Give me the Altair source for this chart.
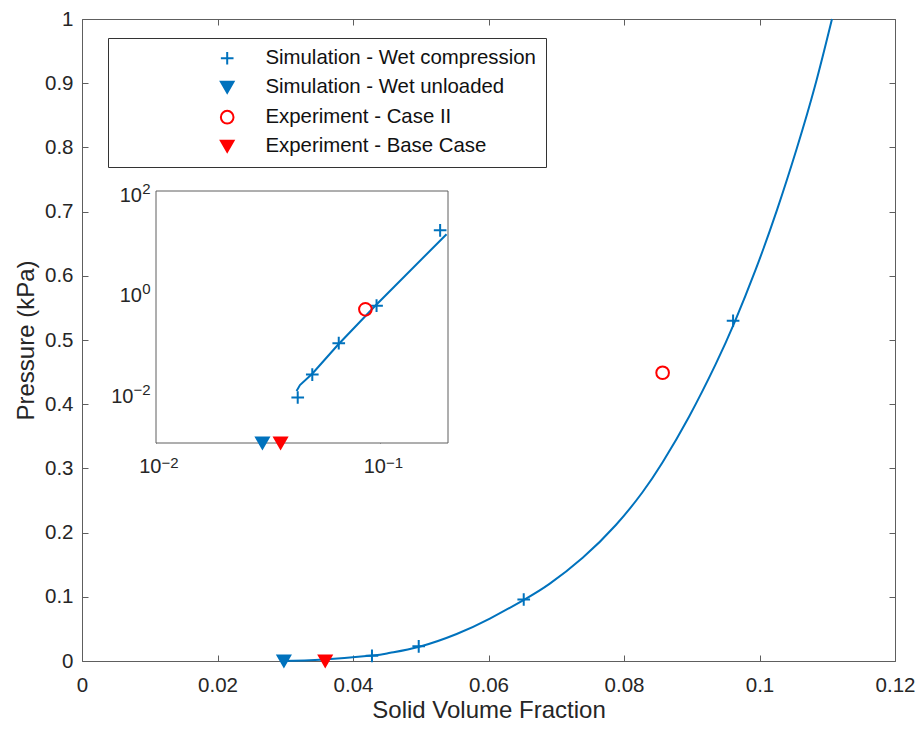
import math
import altair as alt
import pandas as pd

BLUE = "#0072BD"
RED = "#FF0000"
AXC = "#262626"
LINEC = "#5e5e5e"
FONT = "Liberation Sans"

# ---- main curve ----
curve_x = [0.0293, 0.0357, 0.0428, 0.0455, 0.0498, 0.0553, 0.0602, 0.0653, 0.0690,
           0.0739, 0.0788, 0.0827, 0.0857, 0.0896, 0.0935, 0.0963, 0.0994, 0.1026,
           0.1055, 0.1082, 0.1107]
curve_y = [0.0, 0.0025, 0.0085, 0.0128, 0.0223, 0.0421, 0.0661, 0.0957, 0.1201,
           0.1608, 0.2118, 0.2625, 0.3096, 0.3806, 0.4617, 0.5272, 0.6087, 0.7031,
           0.7982, 0.8959, 1.0]

# ---- inset (log-log) line ----
inset_line_x = [0.0423, 0.0438, 0.0498, 0.0644, 0.0951, 0.197]
inset_line_y = [0.0108, 0.0141, 0.0240, 0.0869, 0.535, 13.9]

# ---- markers ----
sim_comp_x = [0.0428, 0.0497, 0.0652, 0.0961, 0.1845]
sim_comp_y = [0.0080, 0.0228, 0.0958, 0.530, 16.6]
sim_unload_x = [0.0298]
sim_unload_y = [0.0]
exp_case2_x = [0.0857]
exp_case2_y = [0.449]
exp_base_x = [0.0359]
exp_base_y = [0.0]
inset_floor = 0.001  # zero values sit on the bottom edge of the log inset

series = ["Simulation - Wet compression", "Simulation - Wet unloaded",
          "Experiment - Case II", "Experiment - Base Case"]

x_ticks = [0, 0.02, 0.04, 0.06, 0.08, 0.1, 0.12]
x_tick_labels = ["0", "0.02", "0.04", "0.06", "0.08", "0.1", "0.12"]
y_ticks = [0, 0.1, 0.2, 0.3, 0.4, 0.5, 0.6, 0.7, 0.8, 0.9, 1.0]
y_tick_labels = ["0", "0.1", "0.2", "0.3", "0.4", "0.5", "0.6", "0.7", "0.8", "0.9", "1"]
inset_x_ticks = [0.01, 0.1]
inset_x_exps = ["\u22122", "\u22121"]
inset_y_ticks = [0.01, 1, 100]
inset_y_exps = ["\u22122", "0", "2"]
inset_x_domain = [0.01, 0.2]
inset_y_domain = [0.001, 100]

# ---- tables ----
curve_df = pd.DataFrame({"x": curve_x, "y": curve_y})
iline_df = pd.DataFrame({"x": inset_line_x, "y": inset_line_y})
rows = []
for xs_, ys_, s in [(sim_comp_x, sim_comp_y, series[0]),
                    (sim_unload_x, sim_unload_y, series[1]),
                    (exp_case2_x, exp_case2_y, series[2]),
                    (exp_base_x, exp_base_y, series[3])]:
    for a, b in zip(xs_, ys_):
        rows.append({"x": a, "y": b, "ylog": b if b > 0 else inset_floor, "series": s})
pts_df = pd.DataFrame(rows)
frame_df = pd.DataFrame({"x0": [inset_x_domain[0]], "x1": [inset_x_domain[1]],
                         "y0": [inset_y_domain[0]], "y1": [inset_y_domain[1]]})

IX0, IX1 = 74, 366
IY0, IY1 = 424, 172


def lin_label_expr(vals, labs):
    expr = "''"
    for v, lab in reversed(list(zip(vals, labs))):
        expr = f"abs(datum.value - {v}) < 1e-9 ? '{lab}' : {expr}"
    return expr


def exp_label_expr(vals, labs):
    expr = "''"
    for v, lab in reversed(list(zip(vals, labs))):
        expr = f"round(log(datum.value)/LN10) == {round(math.log10(v))} ? '{lab}' : {expr}"
    return expr


xs = alt.Scale(domain=[0, 0.12], nice=False, zero=False)
ys = alt.Scale(domain=[0, 1], nice=False, zero=False)
ixs = alt.Scale(type="log", domain=inset_x_domain, range=[IX0, IX1], nice=False)
iys = alt.Scale(type="log", domain=inset_y_domain, range=[IY0, IY1], nice=False)

PLUS = "M-1,0L1,0M0,-1L0,1"
shape_enc = alt.Shape("series:N", scale=alt.Scale(domain=series, range=[PLUS, "triangle-down", "circle", "triangle-down"]),
                      legend=alt.Legend(title=None))
fill_enc = alt.Fill("series:N", scale=alt.Scale(domain=series, range=["transparent", BLUE, "transparent", RED]),
                    legend=alt.Legend(title=None))
stroke_enc = alt.Stroke("series:N", scale=alt.Scale(domain=series, range=[BLUE, BLUE, RED, RED]),
                        legend=alt.Legend(title=None))

inner_tick = dict(labels=False, domain=False, grid=False, title=None, tickSize=6,
                  tickColor=LINEC, tickWidth=1)

# ---------- main ----------
curve = alt.Chart(curve_df).mark_line(color=BLUE, strokeWidth=2, interpolate="natural").encode(
    x=alt.X("x:Q", scale=xs, axis=alt.Axis(orient="bottom", values=x_ticks,
                                           labelExpr=lin_label_expr(x_ticks, x_tick_labels), tickSize=0,
                                           domain=False, grid=False, title="Solid Volume Fraction",
                                           labelPadding=14, titlePadding=3, labelFlush=False,
                                           labelLimit=0, labelOverlap=False)),
    y=alt.Y("y:Q", scale=ys, axis=alt.Axis(orient="left", values=y_ticks,
                                           labelExpr=lin_label_expr(y_ticks, y_tick_labels), tickSize=0,
                                           domain=False, grid=False, title="Pressure (kPa)",
                                           labelPadding=9, titlePadding=6, labelFlush=False,
                                           labelOverlap=False)),
)

main_pts = alt.Chart(pts_df).transform_filter(alt.datum.y <= 1)

sim_pts = main_pts.transform_filter(
    alt.FieldOneOfPredicate(field="series", oneOf=series[:2])
).mark_point(size=160, strokeWidth=2, opacity=1).encode(
    x=alt.X("x:Q", scale=xs, axis=alt.Axis(orient="top", offset={"expr": "-height"}, values=x_ticks, **inner_tick)),
    y=alt.Y("y:Q", scale=ys, axis=alt.Axis(orient="right", offset={"expr": "-width"}, values=y_ticks, **inner_tick)),
    shape=shape_enc, fill=fill_enc, stroke=stroke_enc,
)

exp_pts = main_pts.transform_filter(
    alt.FieldOneOfPredicate(field="series", oneOf=series[2:])
).mark_point(size=160, strokeWidth=2, opacity=1).encode(
    x=alt.X("x:Q", scale=xs, axis=alt.Axis(orient="bottom", offset={"expr": "-height"}, values=x_ticks, **inner_tick)),
    y=alt.Y("y:Q", scale=ys, axis=alt.Axis(orient="left", offset={"expr": "-width"}, values=y_ticks, **inner_tick)),
    shape=shape_enc, fill=fill_enc, stroke=stroke_enc,
)

main = alt.layer(curve, sim_pts, exp_pts).resolve_axis(x="independent", y="independent")

# ---------- inset ----------
frame = alt.Chart(frame_df).mark_rect(fill="white", stroke=LINEC, strokeWidth=1).encode(
    x=alt.X("x0:Q", scale=ixs, axis=alt.Axis(orient="bottom", offset={"expr": f"-(height - {IY0})"},
                                             values=inset_x_ticks,
                                             labelExpr=exp_label_expr(inset_x_ticks, inset_x_exps),
                                             labelAlign="left", labelOffset=5, labelFontSize=15,
                                             labelPadding=12, tickSize=0, domain=False, grid=False,
                                             title=None, labelFlush=False)),
    x2="x1:Q",
    y=alt.Y("y0:Q", scale=iys, axis=alt.Axis(orient="left", offset=-IX0, values=inset_y_ticks,
                                             labelExpr=exp_label_expr(inset_y_ticks, inset_y_exps),
                                             labelAlign="right", labelOffset=-3, labelFontSize=15,
                                             labelPadding=6, tickSize=0, domain=False, grid=False,
                                             title=None, labelFlush=False)),
    y2="y1:Q",
)

iline = alt.Chart(iline_df).mark_line(color=BLUE, strokeWidth=2).encode(
    x=alt.X("x:Q", scale=ixs, axis=alt.Axis(orient="bottom", offset={"expr": f"-(height - {IY0})"},
                                            values=inset_x_ticks,
                                            labelExpr="'10'", labelAlign="right", labelOffset=5,
                                            labelFontSize=20, labelPadding=13, labelFlush=False,
                                            tickSize=0, domain=False, grid=False, title=None)),
    y=alt.Y("y:Q", scale=iys, axis=alt.Axis(orient="left", offset=-IX0, values=inset_y_ticks,
                                            labelExpr="'10'", labelAlign="right", labelOffset=4,
                                            labelFontSize=20, labelFlush=False,
                                            labelPadding={"condition": {"test": "datum.value < 0.1", "value": 23},
                                                          "value": 14.5},
                                            tickSize=0, domain=False, grid=False, title=None)),
)

ipts = alt.Chart(pts_df).mark_point(size=160, strokeWidth=2, opacity=1).encode(
    x=alt.X("x:Q", scale=ixs, axis=alt.Axis(orient="top", offset=-IY0, values=inset_x_ticks, **inner_tick)),
    y=alt.Y("ylog:Q", scale=iys, axis=alt.Axis(orient="right", offset={"expr": f"-(width - {IX0})"},
                                               values=inset_y_ticks, **inner_tick)),
    shape=shape_enc, fill=fill_enc, stroke=stroke_enc,
)

inset = alt.layer(frame, iline, ipts).resolve_axis(x="independent", y="independent")

chart = alt.layer(main, inset).resolve_scale(
    x="independent", y="independent"
).resolve_axis(
    x="independent", y="independent"
).properties(
    width=907, height=715,
    autosize=alt.AutoSizeParams(type="fit", contains="padding"),
    padding={"left": 6, "top": 1, "right": 0, "bottom": 0}
).configure_view(
    stroke=LINEC, strokeWidth=1
).configure_axis(
    labelFont=FONT, titleFont=FONT, labelFontSize=20.5, titleFontSize=24,
    labelColor=AXC, titleColor=AXC, titleFontWeight="normal",
).configure_legend(
    orient="none", legendX=26, legendY=19, padding=10, strokeColor="#333333",
    fillColor="white", labelFont=FONT, labelFontSize=20.4, labelColor="#111111",
    labelLimit=500, symbolSize=160, symbolStrokeWidth=2, symbolOffset=99, labelOffset=28,
    rowPadding=8, cornerRadius=0,
)

chart.save("out.html", embed_options={"renderer": "svg", "actions": False})
